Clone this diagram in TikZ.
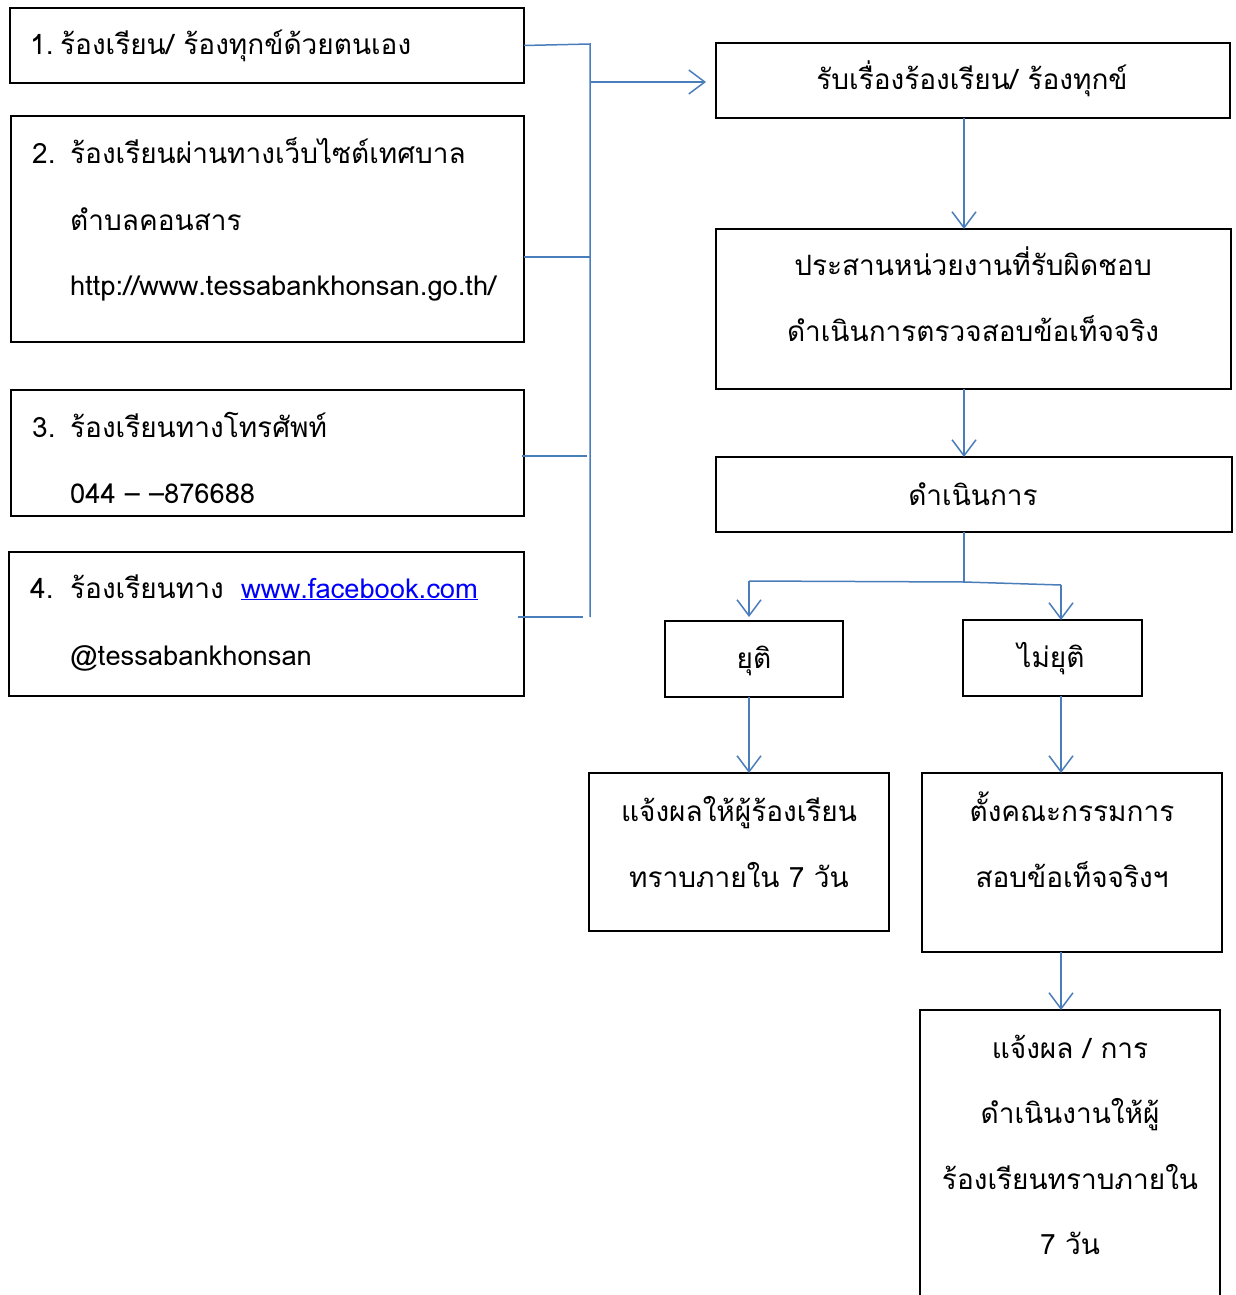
\documentclass[tikz,border=0pt]{standalone}
\usepackage{fontspec}
\newfontfamily\thai[Script=Thai]{Loma}
\usetikzlibrary{arrows.meta}
\definecolor{connblue}{HTML}{4A7EBB}
\definecolor{linkblue}{HTML}{0000FF}
\begin{document}
\begin{tikzpicture}[x=1pt,y=-1pt,
  box/.style={draw=black,line width=1.6pt,inner sep=0pt,outer sep=0pt,anchor=north west},
  txt/.style={font=\thai\fontsize{28}{34}\selectfont,inner sep=0pt,anchor=base west},
  ltxt/.style={font=\thai\fontsize{27.3}{34}\selectfont,inner sep=0pt,anchor=base west},
  ctxt/.style={font=\thai\fontsize{28}{34}\selectfont,inner sep=0pt,anchor=base},
  conn/.style={draw=connblue,line width=1.5pt},
  arr/.style={conn,-{Straight Barb[length=16pt,width=24pt,line width=1.5pt]}}]
\useasboundingbox (0,0) rectangle (1236,1295);
\clip (0,0) rectangle (1236,1295);

% left boxes
\node[box,minimum width=514pt,minimum height=75pt] (B1) at (10,8) {};
\node[box,minimum width=513pt,minimum height=226pt] (B2) at (11,116) {};
\node[box,minimum width=513pt,minimum height=126pt] (B3) at (11,390) {};
\node[box,minimum width=515pt,minimum height=144pt] (B4) at (9,552) {};

\node[txt] (n1) at (30,55) {1.};
\node[txt] (t1) at (60,55) {ร้องเรียน/ ร้องทุกข์ด้วยตนเอง};
\node[txt] (n2) at (32,163) {2.};
\node[txt] (t2a) at (70,163) {ร้องเรียนผ่านทางเว็บไซต์เทศบาล};
\node[txt] (t2b) at (70,230) {ตำบลคอนสาร};
\node[ltxt] (t2c) at (70,295) {http://www.tessabankhonsan.go.th/};
\node[txt] (n3) at (32,437) {3.};
\node[txt] (t3a) at (70,437) {ร้องเรียนทางโทรศัพท์};
\node[ltxt] (t3b) at (70,503) {044 – –876688};
\node[txt] (n4) at (30,598) {4.};
\node[txt] (t4a) at (70,598) {ร้องเรียนทาง};
\node[ltxt] (t4l) at (241,598) {\textcolor{linkblue}{\underline{www.facebook.com}}};
\node[ltxt] (t4b) at (70,665) {@tessabankhonsan};

% right column boxes
\node[box,minimum width=514pt,minimum height=75pt] (R1) at (716,43) {};
\node[box,minimum width=515pt,minimum height=160pt] (R2) at (716,229) {};
\node[box,minimum width=516pt,minimum height=75pt] (R3) at (716,457) {};
\node[box,minimum width=178pt,minimum height=76pt] (Y) at (665,621) {};
\node[box,minimum width=179pt,minimum height=76pt] (N) at (963,620) {};
\node[box,minimum width=300pt,minimum height=158pt] (Ny) at (589,773) {};
\node[box,minimum width=300pt,minimum height=179pt] (C) at (922,773) {};
\node[box,minimum width=300pt,minimum height=320pt] (F) at (920,1010) {};

\node[ctxt] (r1) at (972,90) {รับเรื่องร้องเรียน/ ร้องทุกข์};
\node[ctxt] (r2a) at (973,275) {ประสานหน่วยงานที่รับผิดชอบ};
\node[ctxt] (r2b) at (973,341) {ดำเนินการตรวจสอบข้อเท็จจริง};
\node[ctxt] (r3) at (973,505) {ดำเนินการ};
\node[ctxt] (ty) at (754,668) {ยุติ};
\node[ctxt] (tn) at (1051,667) {ไม่ยุติ};
\node[ctxt] (tny1) at (739,821) {แจ้งผลให้ผู้ร้องเรียน};
\node[ctxt] (tny2) at (739,887) {ทราบภายใน 7 วัน};
\node[ctxt] (tc1) at (1072,821) {ตั้งคณะกรรมการ};
\node[ctxt] (tc2) at (1072,887) {สอบข้อเท็จจริงฯ};
\node[ctxt] (tf1) at (1070,1058) {แจ้งผล / การ};
\node[ctxt] (tf2) at (1070,1123) {ดำเนินงานให้ผู้};
\node[ctxt] (tf3) at (1070,1189) {ร้องเรียนทราบภายใน};
\node[ctxt] (tf4) at (1070,1254) {7 วัน};

% connector coordinates
\coordinate (bar1) at (590,44);
\coordinate (bar2) at (590,257);
\coordinate (bar3) at (587,456);
\coordinate (bar4) at (583,617);
\coordinate (barE) at (590,617);
\coordinate (barA) at (590,82);
\coordinate (cx) at (964,0);
\coordinate (split) at (964,582);
\coordinate (yl) at (749,581);
\coordinate (yr) at (1061,585);
\coordinate (fx) at (1061,0);

% connectors from left boxes
\draw[conn] (B1.east) -- (bar1) -- (barE);
\draw[conn] (B2.east |- bar2) -- (bar2);
\draw[conn] (522,456) -- (bar3);
\draw[conn] (518,617) -- (bar4);
\draw[arr] (barA) -- ([xshift=-10pt]R1.west |- barA);

% right column flow
\draw[arr] (R1.south -| cx) -- (R2.north -| cx);
\draw[arr] (R2.south -| cx) -- (R3.north -| cx);
\draw[conn] (R3.south -| cx) -- (split);
\draw[conn] (yl) -- (split) -- (yr);
\draw[arr] (yl) -- ([yshift=4pt]yl |- Y.north);
\draw[arr] (yr) -- (yr |- N.north);
\draw[arr] (Y.south -| yl) -- (Ny.north -| yl);
\draw[arr] (N.south -| fx) -- (C.north -| fx);
\draw[arr] (C.south -| fx) -- (F.north -| fx);
\end{tikzpicture}
\end{document}
